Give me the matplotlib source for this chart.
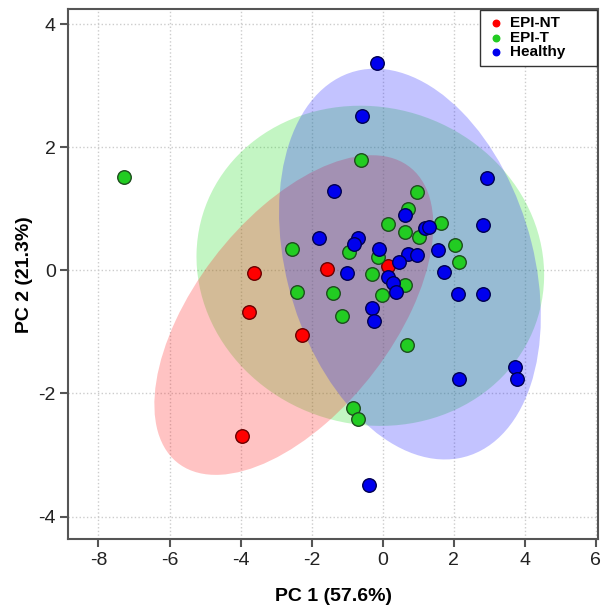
import numpy as np
import matplotlib
matplotlib.use('Agg')
import matplotlib.pyplot as plt
from matplotlib.patches import Ellipse

plt.rcParams['font.family'] = ['Liberation Sans', 'DejaVu Sans']
plt.rcParams['axes.unicode_minus'] = False

# PCA scores
epi_nt_x = [-3.61, -1.56, 0.14, -3.76, -2.26, -3.96]
epi_nt_y = [-0.04, 0.02, 0.07, -0.67, -1.05, -2.69]

epi_t_x = [-7.29, -2.54, -2.42, -1.39, -1.15, -0.62, 0.97, 0.71, 0.16, 1.63, 0.64,
           1.03, -0.96, -0.12, 2.03, 2.16, -0.31, 0.64, -0.03, 0.69, -0.84, -0.69]
epi_t_y = [1.52, 0.34, -0.36, -0.37, -0.75, 1.80, 1.27, 1.00, 0.75, 0.77, 0.63,
           0.54, 0.29, 0.21, 0.41, 0.13, -0.06, -0.24, -0.40, -1.21, -2.24, -2.42]

healthy_x = [-0.17, -0.58, 2.93, 2.81, -1.37, 0.64, 1.20, 1.31, -0.70, -0.80, -1.80,
             -0.10, 0.70, 0.96, 0.46, 1.55, -1.02, 1.72, 0.14, 0.28, 0.37, -0.29,
             -0.25, 2.12, 2.82, 3.72, 3.78, 2.15, -0.39]
healthy_y = [3.36, 2.51, 1.50, 0.74, 1.29, 0.90, 0.68, 0.71, 0.52, 0.42, 0.52,
             0.35, 0.27, 0.25, 0.14, 0.33, -0.05, -0.02, -0.11, -0.20, -0.36, -0.62,
             -0.83, -0.38, -0.38, -1.57, -1.77, -1.77, -3.49]

xticks = [-8, -6, -4, -2, 0, 2, 4, 6]
yticks = [-4, -2, 0, 2, 4]


def conf_ellipse(ax, x, y, color, chi2=5.991, **kw):
    # 95% normal-theory ellipse from the sample covariance
    x = np.asarray(x)
    y = np.asarray(y)
    cov = np.cov(x, y)
    vals, vecs = np.linalg.eigh(cov)
    order = vals.argsort()[::-1]
    vals, vecs = vals[order], vecs[:, order]
    angle = np.degrees(np.arctan2(vecs[1, 0], vecs[0, 0]))
    w, h = 2 * np.sqrt(chi2 * vals)
    e = Ellipse((x.mean(), y.mean()), w, h, angle=angle, facecolor=color,
                edgecolor='none', **kw)
    ax.add_patch(e)


fig = plt.figure(figsize=(6.07, 6.13), dpi=100)
ax = fig.add_axes([0.1125, 0.1202, 0.8722, 0.8646])

# ellipses (green under red under blue)
conf_ellipse(ax, epi_t_x, epi_t_y, '#22dd22', alpha=0.27, zorder=1)
conf_ellipse(ax, epi_nt_x, epi_nt_y, '#ff2222', alpha=0.27, zorder=2)
conf_ellipse(ax, healthy_x, healthy_y, '#2222ff', alpha=0.27, zorder=3)

ax.scatter(epi_nt_x, epi_nt_y, s=95, c='#ff0000', edgecolors='#6a0000', linewidths=1.0, zorder=5)
ax.scatter(epi_t_x, epi_t_y, s=95, c='#22cc22', edgecolors='#1d4d1d', linewidths=1.0, zorder=5)
ax.scatter(healthy_x, healthy_y, s=95, c='#0000ee', edgecolors='#000050', linewidths=1.0, zorder=5)

# legend with small dots, box stretched like the original
h1 = ax.scatter([], [], s=22, c='#ff0000', label='EPI-NT')
h2 = ax.scatter([], [], s=22, c='#22cc22', label='EPI-T')
h3 = ax.scatter([], [], s=22, c='#0000ee', label='Healthy')
leg = ax.legend(handles=[h1, h2, h3], loc='upper right', fancybox=False,
                bbox_to_anchor=(0.777, 0.0, 0.222, 0.999), mode='expand',
                framealpha=1, edgecolor='#333333', borderaxespad=0.0,
                prop={'weight': 'bold', 'size': 11}, labelspacing=0.05,
                handletextpad=0.3, handlelength=1.3, borderpad=0.4)
leg.get_frame().set_linewidth(1.0)
leg.set_zorder(10)

ax.set_xlim(-8.85, 6.05)
ax.set_ylim(-4.37, 4.24)
ax.set_xticks(xticks)
ax.set_yticks(yticks)
ax.grid(True, linestyle=':', color='#cccccc', linewidth=1.0, zorder=0)
ax.set_axisbelow(True)

for sp in ax.spines.values():
    sp.set_color('#555555')
    sp.set_linewidth(1.5)
ax.tick_params(axis='both', length=6, width=1.5, color='#555555',
               labelsize=14, labelcolor='#222222', pad=3)

ax.set_xlabel('PC 1 (57.6%)', fontsize=14, fontweight='bold', labelpad=14)
ax.set_ylabel('PC 2 (21.3%)', fontsize=14, fontweight='bold', labelpad=4)

fig.savefig('out.png', dpi=100)
